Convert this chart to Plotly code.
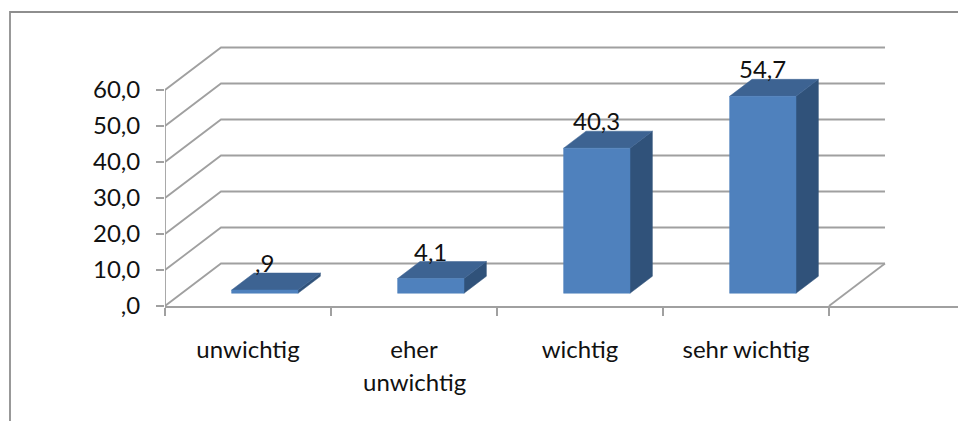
import plotly.graph_objects as go

# Survey shares per answer category
categories = ["unwichtig", "eher", "wichtig", "sehr wichtig"]
continuation_lines = ["", "unwichtig", "", ""]
values = [0.9, 4.1, 40.3, 54.7]
value_labels = [",9", "4,1", "40,3", "54,7"]
y_ticks = [0, 10, 20, 30, 40, 50, 60]
y_tick_labels = [",0", "10,0", "20,0", "30,0", "40,0", "50,0", "60,0"]

# Oblique projection: a unit of depth shifts a point right and up
DEPTH_X = 0.3373
DEPTH_Y = 11.8
BAR_X = (0.3, 0.7)
BAR_DEPTH = (0.3, 0.7)

FRONT = "#4F81BD"
TOP = "#3D6392"
SIDE = "#30527A"
GRID = "#A0A0A0"
LINE_WIDTH = 1.8
FONT = "Lato"
FONT_SIZE = 24
TEXT = dict(family=FONT, size=FONT_SIZE, color="#111111")


def project(x, v, d):
    return x + d * DEPTH_X, v + d * DEPTH_Y


def polyline(points):
    xy = [project(*p) for p in points]
    return [p[0] for p in xy] + [None], [p[1] for p in xy] + [None]


def face(points, color):
    xy = [project(*p) for p in points + points[:1]]
    return go.Scatter(
        x=[p[0] for p in xy], y=[p[1] for p in xy], mode="lines", fill="toself",
        fillcolor=color, line=dict(color=color, width=0.5), hoverinfo="skip",
    )


fig = go.Figure()

# Walls and floor of the box, plus the value axis up to its last tick
grid_x, grid_y = [], []
segments = [[(0, y_ticks[0], 0), (0, y_ticks[-1], 0)], [(len(values), 0, 0), (len(values), 0, 1)]]
segments += [[(0, tick, 0), (0, tick, 1), (len(values), tick, 1)] for tick in y_ticks]
for segment in segments:
    gx, gy = polyline(segment)
    grid_x += gx
    grid_y += gy
fig.add_trace(go.Scatter(x=grid_x, y=grid_y, mode="lines", hoverinfo="skip",
                         line=dict(color=GRID, width=LINE_WIDTH)))

annotations = []

# One cuboid per category, with its value above the front face
for i, v in enumerate(values):
    x0, x1 = i + BAR_X[0], i + BAR_X[1]
    d0, d1 = BAR_DEPTH
    fig.add_trace(face([(x1, 0, d0), (x1, 0, d1), (x1, v, d1), (x1, v, d0)], SIDE))
    fig.add_trace(face([(x0, v, d0), (x1, v, d0), (x1, v, d1), (x0, v, d1)], TOP))
    fig.add_trace(face([(x0, 0, d0), (x1, 0, d0), (x1, v, d0), (x0, v, d0)], FRONT))
    lx, ly = project(i + 0.5, v, d0)
    annotations.append(dict(x=lx, y=ly, xref="x", yref="y", text=value_labels[i], showarrow=False,
                            yanchor="bottom", yshift=11, font=TEXT))

# Second lines of wrapped category labels
annotations += [
    dict(x=i + 0.5, y=0, xref="x", yref="y", text=line, showarrow=False,
         yanchor="top", yshift=-59, font=TEXT)
    for i, line in enumerate(continuation_lines) if line
]

WIDTH, HEIGHT = 958, 421
LEFT, BOTTOM = 165, 115
plot_w, plot_h = WIDTH - LEFT, HEIGHT - BOTTOM
frame_x, frame_y = (10 - LEFT) / plot_w, (plot_h - 12) / plot_h

fig.update_layout(
    width=WIDTH, height=HEIGHT, autosize=False, showlegend=False,
    margin=dict(l=LEFT, r=0, t=0, b=BOTTOM),
    paper_bgcolor="#FFFFFF", plot_bgcolor="#FFFFFF",
    font=TEXT,
    annotations=annotations,
    shapes=[dict(
        type="path", xref="paper", yref="paper",
        path=f"M {frame_x} {-BOTTOM / plot_h} L {frame_x} {frame_y} L 1 {frame_y}",
        line=dict(color="#8E8E8E", width=LINE_WIDTH),
    )],
    xaxis=dict(
        range=[0, plot_w / 166], showgrid=False, zeroline=False, showline=True,
        linecolor=GRID, linewidth=LINE_WIDTH,
        tickmode="array", tickvals=[i + 0.5 for i in range(len(categories))],
        ticktext=categories, ticks="outside", ticklen=21, tickcolor="rgba(0,0,0,0)",
        minor=dict(tickmode="array", tickvals=list(range(len(categories) + 1)),
                   ticks="outside", ticklen=8, tickcolor=GRID, tickwidth=LINE_WIDTH),
    ),
    yaxis=dict(
        range=[0, plot_h / 3.6], showgrid=False, zeroline=False, showline=False,
        tickmode="array", tickvals=y_ticks,
        ticktext=y_tick_labels, ticks="outside", ticklen=8, tickcolor=GRID, tickwidth=LINE_WIDTH,
        ticklabelstandoff=11,
    ),
)

fig.write_html("out.html", config=dict(displayModeBar=False))
